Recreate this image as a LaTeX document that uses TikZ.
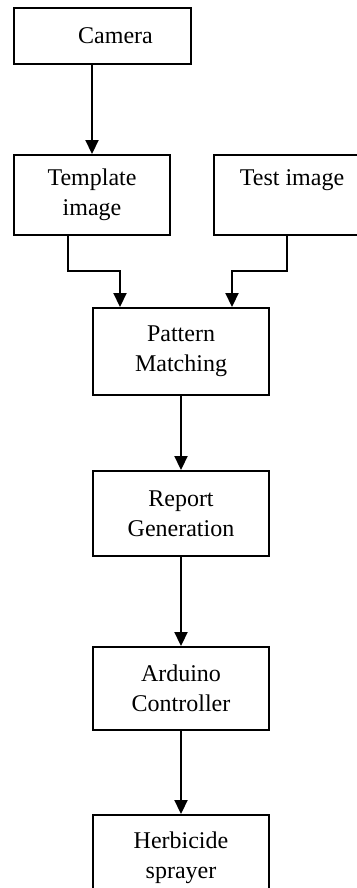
\documentclass[tikz,border=0pt]{standalone}
\usepackage{fontspec}
\setmainfont{Liberation Serif}
\usetikzlibrary{arrows.meta,positioning}

\begin{document}
\begin{tikzpicture}[
  node distance   = 37pt and 21pt,
  every node/.style = {font=\fontsize{12}{15}\selectfont},
  box/.style  = {draw, line width=1pt, align=center, inner sep=0pt},
  wbox/.style = {box, minimum width=88pt, minimum height=42.5pt},
  nbox/.style = {box, minimum width=78pt, minimum height=40pt},
  arr/.style  = {-{Triangle[width=6.5pt,length=7pt]}, line width=1.1pt},
]
\clip (0,0) rectangle (178.5pt,-444pt);
\fill[white] (0,0) rectangle (178.5pt,-444pt);

%% ---------- inputs ----------
\node[box, minimum width=88.5pt, minimum height=28pt] (cam) at (51.25pt,-18pt)
  {\hspace*{13pt}Camera};
\node[nbox, below=44.5pt of cam.south west, anchor=north west] (tmpl)
  {Template\\image};
\node[nbox, right=of tmpl] (test) {Test image\\\phantom{image}};

\draw[arr] (cam.south -| tmpl.north) -- (tmpl);

%% ---------- processing chain ----------
\node[wbox, minimum height=43.5pt] (match) at (90.5pt,-175.75pt)
  {Pattern\\Matching};
\node[wbox, below=of match]         (report) {Report\\Generation};
\node[wbox, minimum height=41.5pt, below=44.5pt of report] (ardu)
  {Arduino\\Controller};
\node[wbox, below=41.5pt of ardu]   (spray)  {Herbicide\\sprayer};

%% merge into matching
\coordinate (mL) at ([xshift=14pt,yshift=18pt]match.north west);
\coordinate (mR) at ([xshift=-19pt,yshift=18pt]match.north east);
\draw[arr] ([xshift=-12pt]tmpl.south) |- (mL) -- (mL |- match.north);
\draw[arr] ([xshift=-2.5pt]test.south) |- (mR) -- (mR |- match.north);

\draw[arr](match)--(report); \draw[arr](report)--(ardu);
\draw[arr](ardu)--(spray);

\end{tikzpicture}
\end{document}
